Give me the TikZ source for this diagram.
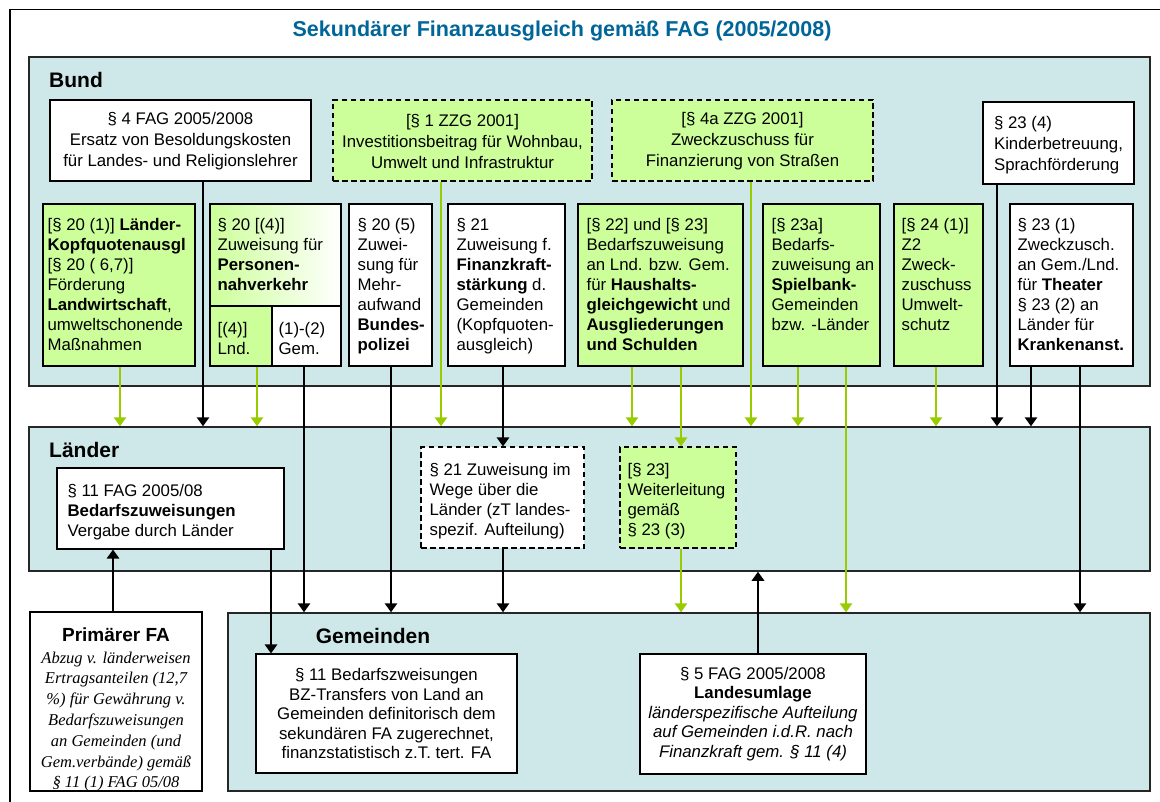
\documentclass[tikz,border=0pt]{standalone}
\usepackage{fontspec}
\setmainfont{Liberation Sans}
\newfontfamily\timesfont{Liberation Serif}
\newfontfamily\arialfont{Liberation Sans}
\usetikzlibrary{arrows.meta,fit}
\definecolor{panelc}{RGB}{206,231,232}
\definecolor{boxgreen}{RGB}{204,255,153}
\definecolor{arrgreen}{RGB}{153,204,0}
\definecolor{titleblue}{RGB}{0,102,153}
\tikzset{
  panel/.style={draw=black!85, line width=1.5pt, fill=panelc, inner sep=0pt},
  wbox/.style={draw=black, line width=1.2pt, fill=white, inner sep=0pt},
  gbox/.style={wbox, fill=boxgreen},
  dbox/.style={dash pattern=on 5.5pt off 3.5pt},
  body/.style={font=\fontsize{16.8}{20}\selectfont},
  topbody/.style={font=\fontsize{16.8}{21}\selectfont, inner sep=0pt},
  botbody/.style={font=\fontsize{16.8}{19.5}\selectfont, inner sep=0pt},
  tl/.style={body, align=left, inner sep=0pt, anchor=north west},
  tw/.style={body, align=left, inner sep=0pt, anchor=west},
  lbl/.style={font=\fontsize{21}{24}\selectfont\bfseries, inner sep=0pt},
  ar/.style={-{Triangle[width=12.5pt,length=9pt]}, line width=1.5pt, draw=black},
  ga/.style={ar, draw=arrgreen}
}
\begin{document}
\begin{tikzpicture}[x=1pt,y=-1pt]
\useasboundingbox (0,0) rectangle (1160,802);
\fill[white] (0,0) rectangle (1160,802);
\draw[line width=1.5pt] (10,812) -- (10,9.5) -- (1172,9.5);
\node[font=\fontsize{21.5}{24}\selectfont\bfseries, text=titleblue, inner sep=0pt] (title) at (562,31) {Sekundärer Finanzausgleich gemäß FAG (2005/2008)};

% panels
\node[panel, fit={(29,57)(1150,386)}] (bund) {};
\node[panel, fit={(29,427)(1150,571)}] (laender) {};
\node[panel, fit={(228,613)(1150,791)}] (gem) {};
\node[lbl, anchor=west] (bundlbl) at (49,80) {Bund};
\node[lbl, anchor=west] (laenderlbl) at (49,450) {Länder};
\node[lbl] (gemlbl) at (373,636) {Gemeinden};

% Bund: top row
\node[wbox, fit={(50,100)(311,181)}] (s4) {};
\node[topbody, align=center] (s4t) at ([yshift=-1pt]s4.center) {§ 4 FAG 2005/2008\\Ersatz von Besoldungskosten\\für Landes- und Religionslehrer};
\node[gbox, dbox, fit={(333,100)(592,181)}] (z1) {};
\node[topbody, align=center] (z1t) at ([yshift=-1pt]z1.center) {[§ 1 ZZG 2001]\\Investitionsbeitrag für Wohnbau,\\Umwelt und Infrastruktur};
\node[gbox, dbox, fit={(612,100)(873,181)}] (z4a) {};
\node[topbody, align=center] (z4at) at ([yshift=-1pt]z4a.center) {[§ 4a ZZG 2001]\\Zweckzuschuss für\\Finanzierung von Straßen};
\node[wbox, fit={(983,102)(1134,184)}] (s234) {};
\node[topbody, align=left] (s234t) at ([yshift=-2pt]s234.center) {§ 23 (4)\\Kinderbetreuung,\\Sprachförderung};

% Bund: second row
\node[gbox, fit={(43,204)(195,366)}] (s201) {};
\node[tl] (s201t) at ([xshift=5pt,yshift=-14.5pt]s201.north west) {[§ 20 (1)] \textbf{Länder-}\\\textbf{Kopfquotenausgl}\\{}[§ 20 ( 6,7)]\\Förderung\\\textbf{Landwirtschaft},\\umweltschonende\\Maßnahmen};
\node[wbox, left color=boxgreen, right color=white, fit={(210,204)(341,306)}] (s204) {};
\node[tl] (s204t) at ([xshift=8pt,yshift=-14.5pt]s204.north west) {§ 20 [(4)]\\Zuweisung für\\\textbf{Personen-}\\\textbf{nahverkehr}};
\node[gbox, fit={(210,306)(272,366)}] (s204l) {};
\node[tl] (s204lt) at ([xshift=8pt,yshift=-16.5pt]s204l.north west) {[(4)]\\Lnd.};
\node[wbox, fit={(272,306)(341,366)}] (s204g) {};
\node[tl] (s204gt) at ([xshift=7pt,yshift=-16.5pt]s204g.north west) {(1)-(2)\\Gem.};
\node[wbox, fit={(349,204)(432,366)}] (s205) {};
\node[tl] (s205t) at ([xshift=9pt,yshift=-14.5pt]s205.north west) {§ 20 (5)\\Zuwei-\\sung für\\Mehr-\\aufwand\\\textbf{Bundes-}\\\textbf{polizei}};
\node[wbox, fit={(448,204)(565,366)}] (s21) {};
\node[tl] (s21t) at ([xshift=9pt,yshift=-14.5pt]s21.north west) {§ 21\\Zuweisung f.\\\textbf{Finanzkraft-}\\\textbf{stärkung} d.\\Gemeinden\\(Kopfquoten-\\ausgleich)};
\node[gbox, fit={(578,204)(743,366)}] (s22) {};
\node[tl] (s22t) at ([xshift=9pt,yshift=-14.5pt]s22.north west) {[§ 22] und [§ 23]\\Bedarfszuweisung\\an Lnd. bzw. Gem.\\für \textbf{Haushalts-}\\\textbf{gleichgewicht} und\\\textbf{Ausgliederungen}\\\textbf{und Schulden}};
\node[gbox, fit={(763,204)(880,366)}] (s23a) {};
\node[tl] (s23at) at ([xshift=9pt,yshift=-14.5pt]s23a.north west) {[§ 23a]\\Bedarfs-\\zuweisung an\\\textbf{Spielbank-}\\Gemeinden\\bzw. -Länder};
\node[gbox, fit={(894,204)(983,366)}] (s241) {};
\node[tl] (s241t) at ([xshift=8pt,yshift=-14.5pt]s241.north west) {[§ 24 (1)]\\Z2\\Zweck-\\zuschuss\\Umwelt-\\schutz};
\node[wbox, fit={(1010,204)(1133,366)}] (s231) {};
\node[tl] (s231t) at ([xshift=8pt,yshift=-14.5pt]s231.north west) {§ 23 (1)\\Zweckzusch.\\an Gem./Lnd.\\für \textbf{Theater}\\§ 23 (2) an\\Länder für\\\textbf{Krankenanst.}};

% Laender boxes
\node[wbox, fit={(57,468)(284,549)}] (s11) {};
\node[tw] (s11t) at ([xshift=11pt,yshift=-4pt]s11.west) {§ 11 FAG 2005/08\\\textbf{Bedarfszuweisungen}\\Vergabe durch Länder};
\node[wbox, dbox, fit={(421,447)(584,548)}] (s21d) {};
\node[tw] (s21dt) at ([xshift=9pt,yshift=-4pt]s21d.west) {§ 21 Zuweisung im\\Wege über die\\Länder (zT landes-\\spezif. Aufteilung)};
\node[gbox, dbox, fit={(620,447)(736,548)}] (s23w) {};
\node[tw] (s23wt) at ([xshift=8pt,yshift=-4pt]s23w.west) {[§ 23]\\Weiterleitung\\gemäß\\§ 23 (3)};

% Gemeinden boxes
\node[wbox, fit={(256,654)(517,773)}] (bz) {};
\node[botbody, align=center] (bzt) at (bz.center) {§ 11 Bedarfszweisungen\\BZ-Transfers von Land an\\Gemeinden definitorisch dem\\sekundären FA zugerechnet,\\finanzstatistisch z.T. tert. FA};
\node[wbox, fit={(640,654)(866,774)}] (lu) {};
\node[botbody, align=center] (lut) at (lu.center) {§ 5 FAG 2005/2008\\\textbf{Landesumlage}\\\textit{länderspezifische Aufteilung}\\\textit{auf Gemeinden i.d.R. nach}\\\textit{Finanzkraft gem. § 11 (4)}};

% Primaerer FA
\node[wbox, fit={(30,612)(202,791)}] (prim) {};
\node[align=center, inner sep=0pt, font=\timesfont\itshape\fontsize{16.5}{20.8}\selectfont] (primt) at ([yshift=-8pt]prim.center) {{\arialfont\upshape\bfseries\fontsize{19}{22}\selectfont Primärer FA}\\[1pt]Abzug v. länderweisen\\Ertragsanteilen (12,7\\\%) für Gewährung v.\\Bedarfszuweisungen\\an Gemeinden (und\\Gem.verbände) gemäß\\§ 11 (1) FAG 05/08};

% Bund -> Laender
\draw[ga] (s201.south -| 120,0) -- (laender.north -| 120,0);
\draw[ar] (s4.south -| 203,0) -- (laender.north -| 203,0);
\draw[ga] (s204l.south -| 257,0) -- (laender.north -| 257,0);
\draw[ar] (s204g.south -| 304,0) -- (gem.north -| 304,0);
\draw[ar] (s205.south -| 391,0) -- (gem.north -| 391,0);
\draw[ga] (z1.south -| 441,0) -- (laender.north -| 441,0);
\draw[ar] (s21.south -| 503,0) -- (s21d.north -| 503,0);
\draw[ga] (s22.south -| 632,0) -- (laender.north -| 632,0);
\draw[ga] (s22.south -| 681,0) -- (s23w.north -| 681,0);
\draw[ga] (z4a.south -| 751,0) -- (laender.north -| 751,0);
\draw[ga] (s23a.south -| 798,0) -- (laender.north -| 798,0);
\draw[ga] (s23a.south -| 846,0) -- (gem.north -| 846,0);
\draw[ga] (s241.south -| 936,0) -- (laender.north -| 936,0);
\draw[ar] (s234.south -| 997,0) -- (laender.north -| 997,0);
\draw[ar] (s231.south -| 1031,0) -- (laender.north -| 1031,0);
\draw[ar] (s231.south -| 1080,0) -- (gem.north -| 1080,0);

% Laender -> Gemeinden
\draw[ar] (s11.south -| 271,0) -- (bz.north -| 271,0);
\draw[ar] (s21d.south -| 503,0) -- (gem.north -| 503,0);
\draw[ga] (s23w.south -| 681,0) -- (gem.north -| 681,0);

% upward
\draw[ar] (prim.north -| 113,0) -- (s11.south -| 113,0);
\draw[ar] (lu.north -| 758,0) -- (laender.south -| 758,0);
\end{tikzpicture}
\end{document}
